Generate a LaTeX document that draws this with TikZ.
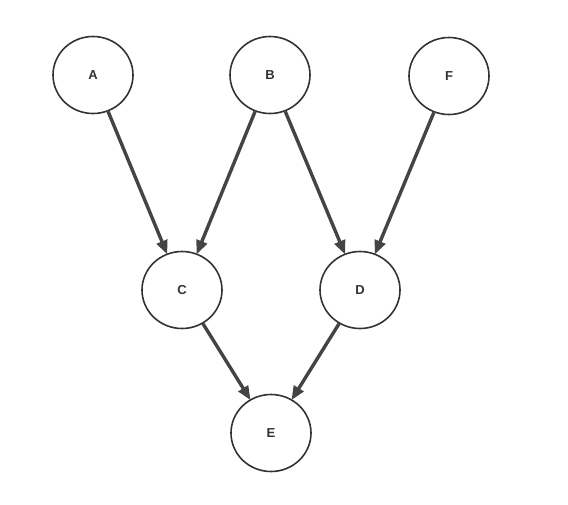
\documentclass[tikz,border=0pt]{standalone}
\usepackage{fontspec}
\setmainfont{Liberation Sans}
\usetikzlibrary{arrows.meta,shapes.geometric}
\definecolor{ink}{HTML}{333333}
\definecolor{edgeink}{HTML}{444444}
\tikzset{
  vertex/.style={ellipse, draw=ink, line width=1.6pt, minimum width=80pt, minimum height=77pt, inner sep=0pt, font=\bfseries\fontsize{13}{14}\selectfont, text=ink},
  link/.style={draw=edgeink, line width=3.4pt, -{Triangle[length=14pt,width=11pt]}, shorten >=-1pt}
}
\begin{document}
\begin{tikzpicture}[x=1pt,y=-1pt]
\useasboundingbox (0,0) rectangle (568,504);
\node[vertex] (A) at (93,75) {A};
\node[vertex] (B) at (270,75) {B};
\node[vertex] (F) at (449,76) {F};
\node[vertex] (C) at (182,290) {C};
\node[vertex] (D) at (360,290) {D};
\node[vertex] (E) at (271,433) {E};
\draw[link] (A) -- (C);
\draw[link] (B) -- (C);
\draw[link] (B) -- (D);
\draw[link] (F) -- (D);
\draw[link] (C) -- (E);
\draw[link] (D) -- (E);
\end{tikzpicture}
\end{document}
